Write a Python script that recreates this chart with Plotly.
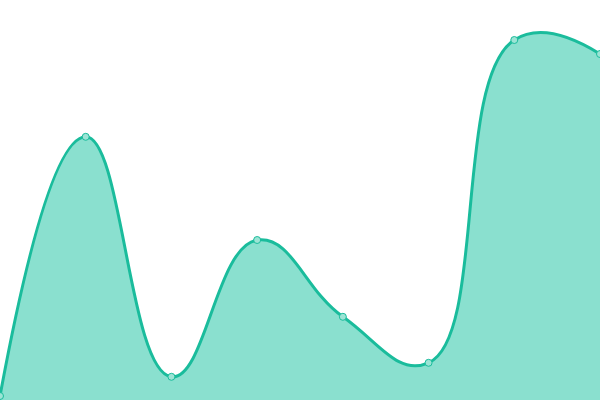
import plotly.graph_objects as go

x_vals = [0, 1, 2, 3, 4, 5, 6, 7]
y_vals = [1, 65.8, 5.8, 40, 20.8, 9.3, 90, 86.5]

line_color = "#1abc9c"

fig = go.Figure(go.Scatter(
    x=x_vals,
    y=y_vals,
    mode="lines+markers",
    line=dict(color=line_color, width=3, shape="spline", smoothing=1.3),
    marker=dict(size=7, color="#9ce4d5", line=dict(color=line_color, width=1)),
    fill="tozeroy",
    fillcolor="#8ae0cf",
    hoverinfo="skip",
))
fig.update_layout(
    width=600,
    height=400,
    margin=dict(l=0, r=0, t=0, b=0),
    paper_bgcolor="white",
    plot_bgcolor="white",
    showlegend=False,
    xaxis=dict(visible=False, range=[0, 7], fixedrange=True),
    yaxis=dict(visible=False, range=[0, 100], fixedrange=True),
)
# drop the default page margin so the chart sits flush in the window
fig.write_html(
    "out.html",
    config={"displayModeBar": False},
    post_script="document.body.style.margin='0';document.body.style.overflow='hidden';",
)
